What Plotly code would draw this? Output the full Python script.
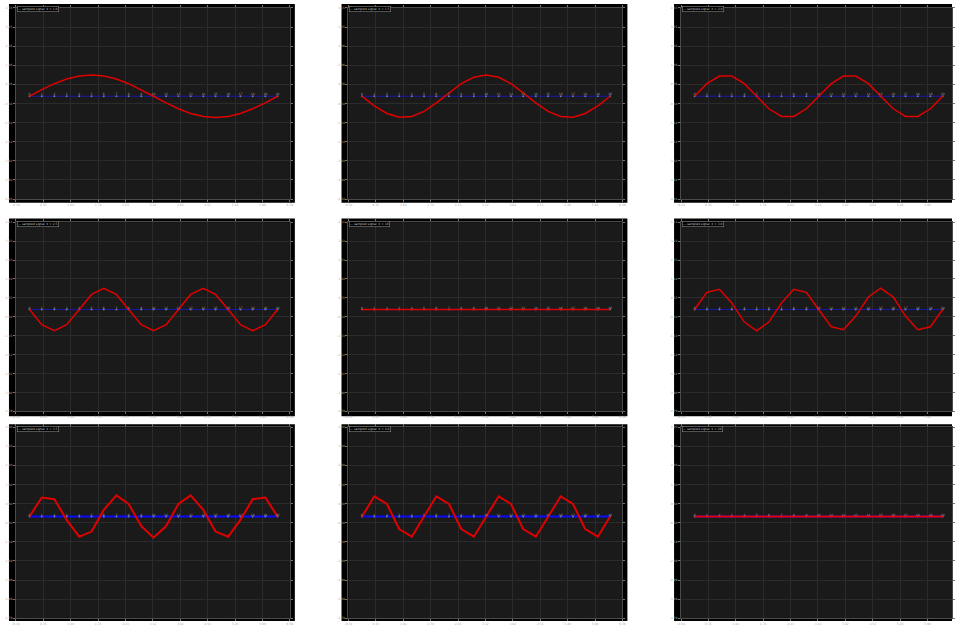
import numpy as np
import plotly.graph_objects as go

# Sample times (21 samples over one turn)
T = [0.00, 0.31, 0.63, 0.94, 1.26, 1.57, 1.88, 2.20, 2.51, 2.83, 3.14,
     3.46, 3.77, 4.08, 4.40, 4.71, 5.03, 5.34, 5.65, 5.97, 6.28]

SAMPLE_LABELS = [str(i) for i in range(21)]

# Sampled signals, one per panel (row-major order)
S1 = [0, 0.31, 0.59, 0.81, 0.95, 1.00, 0.95, 0.81, 0.59, 0.31, 0,
      -0.31, -0.59, -0.81, -0.95, -1.00, -0.95, -0.81, -0.59, -0.31, 0]
S2 = [0, -0.45, -0.81, -0.99, -0.95, -0.71, -0.31, 0.16, 0.59, 0.89, 1.00,
      0.89, 0.59, 0.16, -0.31, -0.71, -0.95, -0.99, -0.81, -0.45, 0]
S3 = [0, 0.59, 0.95, 0.95, 0.59, 0, -0.59, -0.95, -0.95, -0.59, 0,
      0.59, 0.95, 0.95, 0.59, 0, -0.59, -0.95, -0.95, -0.59, 0]
S4 = [0, -0.71, -1.00, -0.71, 0, 0.71, 1.00, 0.71, 0, -0.71, -1.00,
      -0.71, 0, 0.71, 1.00, 0.71, 0, -0.71, -1.00, -0.71, 0]
S5 = [0] * 21
S6 = [0, 0.81, 0.95, 0.31, -0.59, -1.00, -0.59, 0.31, 0.95, 0.81, 0,
      -0.81, -0.95, -0.31, 0.59, 1.00, 0.59, -0.31, -0.95, -0.81, 0]
S7 = [0, 0.89, 0.81, -0.16, -0.95, -0.71, 0.31, 0.99, 0.59, -0.45, -1.00,
      -0.45, 0.59, 0.99, 0.31, -0.71, -0.95, -0.16, 0.81, 0.89, 0]
S8 = [0, 0.95, 0.59, -0.59, -0.95, 0, 0.95, 0.59, -0.59, -0.95, 0,
      0.95, 0.59, -0.59, -0.95, 0, 0.95, 0.59, -0.59, -0.95, 0]
S9 = [0] * 21
SERIES = [S1, S2, S3, S4, S5, S6, S7, S8, S9]
LEGEND_TEXT = ["— sampled signal  k = 1.0", "— sampled signal  k = 1.5",
               "— sampled signal  k = 2.0", "— sampled signal  k = 2.5",
               "— sampled signal  k = 10", "— sampled signal  k = 3.0",
               "— sampled signal  k = 3.5", "— sampled signal  k = 4.0",
               "— sampled signal  k = 20"]

W, H = 955, 626
COL_LEFT = [5, 340, 675]          # black panel frames (px)
PANEL_W = 288
ROW_FRAME = [(2, 203), (219, 419), (427, 628)]
ROW_PLOT = [(6.0, 199.3), (222.7, 414.0), (430.0, 623.3)]
BASE_OFF = [89.3, 88.3, 90.3]     # baseline offset from plot top (px)
PX_PER_X = 39.79
PX_PER_Y = 21.5
# per-row styling: (baseline colour, baseline width, signal width)
ROW_STYLE = [("#1818b0", 1.0, 1.5), ("#1818b0", 1.0, 1.5),
             ("#0a0aff", 2.0, 2.0)]

fig = go.Figure()
shapes, annos = [], []


def px(x):
    return x / W


def py(y):
    return 1 - y / H


for k in range(9):
    r, c = divmod(k, 3)
    n = k + 1
    xa = "x" if n == 1 else f"x{n}"
    ya = "y" if n == 1 else f"y{n}"
    xl = "xaxis" if n == 1 else f"xaxis{n}"
    yl = "yaxis" if n == 1 else f"yaxis{n}"

    left = COL_LEFT[c]
    fr_t, fr_b = ROW_FRAME[r]
    shapes.append(dict(type="rect", xref="paper", yref="paper", layer="below",
                       x0=px(left), x1=px(min(left + PANEL_W, W)),
                       y0=py(min(fr_b, H)), y1=py(fr_t),
                       fillcolor="#000000", line=dict(width=0)))

    p_l = left + 7
    p_r_full = left + 283
    p_r = min(p_r_full, W)
    p_t, p_b = ROW_PLOT[r]
    x0 = -(left + 20.7 - p_l) / PX_PER_X
    x1_full = x0 + (p_r_full - p_l) / PX_PER_X
    x1 = x0 + (p_r - p_l) / PX_PER_X
    ytop = BASE_OFF[r] / PX_PER_Y
    ybot = -((p_b - p_t) - BASE_OFF[r]) / PX_PER_Y

    xt = np.linspace(x0, x1_full, 11)
    yt = np.linspace(ybot, ytop, 11)
    xt_in = [v for v in xt if v <= x1 + 1e-9]

    common = dict(showgrid=True, gridcolor="#2b2b2b", gridwidth=1,
                  zeroline=False, showline=True, linecolor="#4a4a4a",
                  linewidth=1, mirror="ticks", ticks="outside", ticklen=2,
                  tickcolor="#777777", tickfont=dict(size=3, color="#aaaaaa",
                                                     family="DejaVu Sans"),
                  fixedrange=True)
    fig.layout[xl] = dict(domain=[px(p_l), px(p_r)], range=[x0, x1],
                          anchor=ya, tickvals=xt_in,
                          ticktext=[f"{v:.2f}" for v in xt_in], **common)
    fig.layout[yl] = dict(domain=[py(p_b), py(p_t)], range=[ybot, ytop],
                          anchor=xa, tickvals=yt,
                          ticktext=[f"{v:.2f}" for v in yt], **common)

    # plot area background
    shapes.append(dict(type="rect", xref=f"{xa} domain", yref=f"{ya} domain",
                       layer="below", x0=0, x1=1, y0=0, y1=1,
                       fillcolor="#1a1a1a", line=dict(width=0)))

    bcol, bw, sw = ROW_STYLE[r]
    # baseline samples
    fig.add_trace(go.Scatter(x=T, y=[0] * len(T), xaxis=xa, yaxis=ya,
                             mode="lines+markers",
                             line=dict(color=bcol, width=bw),
                             marker=dict(size=2, color="#7a7a7a"),
                             showlegend=False, hoverinfo="skip"))
    # sampled signal
    fig.add_trace(go.Scatter(x=T, y=SERIES[k], xaxis=xa, yaxis=ya,
                             mode="lines", line=dict(color="#e00000", width=sw),
                             showlegend=False, hoverinfo="skip"))
    # sample indices
    fig.add_trace(go.Scatter(x=T, y=[0] * len(T), xaxis=xa, yaxis=ya,
                             mode="text", text=SAMPLE_LABELS,
                             textposition="top center",
                             textfont=dict(size=3, color="#9a9a9a",
                                           family="DejaVu Sans"),
                             showlegend=False, hoverinfo="skip"))

    annos.append(dict(xref="paper", yref="paper", x=px(p_l + 1), y=py(p_t - 1.7),
                      xanchor="left", yanchor="top", showarrow=False,
                      text=LEGEND_TEXT[k], align="left",
                      font=dict(size=3, color="#cccccc", family="DejaVu Sans"),
                      bgcolor="#000000", bordercolor="#888888", borderwidth=0.6,
                      borderpad=0.5))

fig.update_layout(width=W, height=H, margin=dict(l=0, r=0, t=0, b=0),
                  paper_bgcolor="#ffffff", plot_bgcolor="rgba(0,0,0,0)",
                  shapes=shapes, annotations=annos, showlegend=False)

fig.write_html("out.html")
